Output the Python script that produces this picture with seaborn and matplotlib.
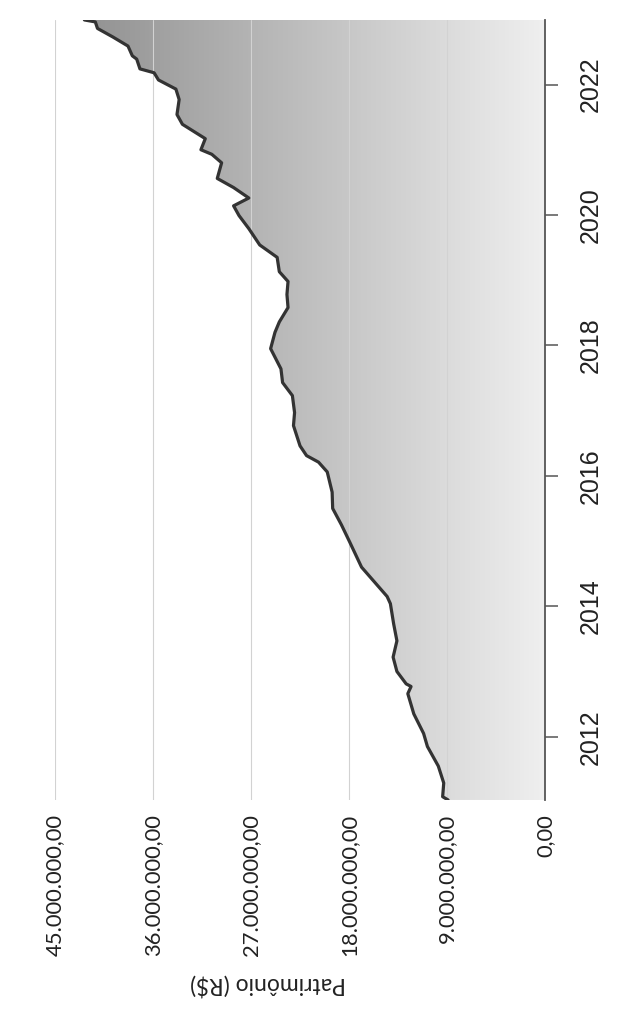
import numpy as np
import pandas as pd
import matplotlib.pyplot as plt
import seaborn as sns
from matplotlib.ticker import FuncFormatter
from matplotlib.colors import LinearSegmentedColormap
from matplotlib.path import Path
from matplotlib.patches import PathPatch

# Patrimônio ao longo do tempo (ano decimal, milhões de R$)
years = [2011.03, 2011.08, 2011.29, 2011.55, 2011.85, 2012.05, 2012.35, 2012.66,
         2012.77, 2012.81, 2013.00, 2013.22, 2013.47, 2013.73, 2014.04, 2014.15,
         2014.60, 2014.99, 2015.25, 2015.50, 2015.75, 2016.06, 2016.21, 2016.31,
         2016.46, 2016.77, 2016.97, 2017.23, 2017.43, 2017.64, 2017.95, 2018.20,
         2018.36, 2018.58, 2018.78, 2018.98, 2019.13, 2019.35, 2019.54, 2019.79,
         2019.99, 2020.14, 2020.26, 2020.42, 2020.56, 2020.80, 2020.93, 2021.00,
         2021.17, 2021.39, 2021.54, 2021.77, 2021.93, 2022.07, 2022.18, 2022.24,
         2022.39, 2022.44, 2022.59, 2022.73, 2022.86, 2022.96, 2022.99]
values_mi = [8.9, 9.4, 9.3, 9.8, 10.8, 11.15, 12.05, 12.6,
             12.3, 12.75, 13.6, 13.95, 13.6, 13.9, 14.2, 14.5,
             16.85, 17.95, 18.7, 19.5, 19.55, 20.0, 20.8, 21.9,
             22.5, 23.1, 23.0, 23.2, 24.1, 24.25, 25.2, 24.8,
             24.4, 23.6, 23.7, 23.6, 24.4, 24.6, 26.2, 27.2,
             28.1, 28.6, 27.2, 28.6, 30.1, 29.7, 30.6, 31.6,
             31.2, 33.3, 33.8, 33.6, 33.9, 35.5, 35.9, 37.2,
             37.5, 37.9, 38.3, 39.7, 41.1, 41.3, 42.3]
value_ticks = [0, 9e6, 18e6, 27e6, 36e6, 45e6]
year_ticks = [2012, 2014, 2016, 2018, 2020, 2022]

df = pd.DataFrame({"ano": years, "patrimonio": np.array(values_mi) * 1e6})


def brl(v, pos=None):
    s = f"{v:,.2f}"
    return s.replace(",", "X").replace(".", ",").replace("X", ".")


sns.set_style("white")
plt.rcParams["font.family"] = ["Lato", "DejaVu Sans"]

# chart is drawn rotated (as in the scanned page): values run right->left, years bottom->top
fig = plt.figure(figsize=(6.26, 10.13), dpi=100)
ax = fig.add_axes([0.0879, 0.2103, 0.7827, 0.7700])

# gradient area fill, clipped to the area under the curve
cmap = LinearSegmentedColormap.from_list("fill", ["#efefef", "#8c8c8c"])
grad = np.linspace(0, 1, 256).reshape(1, -1)
im = ax.imshow(grad, cmap=cmap, aspect="auto", origin="lower",
               extent=[0, 45e6, years[0], years[-1]], zorder=1)
verts = list(zip(df["patrimonio"], df["ano"])) + [(0, years[-1]), (0, years[0])]
patch = PathPatch(Path(verts), facecolor="none", edgecolor="none")
ax.add_patch(patch)
im.set_clip_path(patch)

sns.lineplot(data=df, x="patrimonio", y="ano", orient="y", estimator=None,
             color="#333333", lw=2.3, ax=ax, zorder=4)

ax.set_xlim(45e6, 0)
ax.set_ylim(years[0], years[-1])

ax.set_axisbelow(False)
ax.xaxis.grid(True, color="#d2d2d2", lw=0.8)
ax.yaxis.grid(False)

for side in ["top", "left", "bottom"]:
    ax.spines[side].set_visible(False)
ax.spines["right"].set_color("#555555")
ax.spines["right"].set_linewidth(1.3)
ax.spines["right"].set_zorder(5)

ax.set_xticks(value_ticks)
ax.xaxis.set_major_formatter(FuncFormatter(brl))
ax.tick_params(axis="x", length=0, pad=10, labelsize=15.8, labelrotation=90,
               labelcolor="#222222")

ax.yaxis.tick_right()
ax.set_yticks(year_ticks)
ax.set_yticklabels([str(y) for y in year_ticks], family="Liberation Sans",
                   fontsize=18, rotation=90, va="center", color="#222222")
ax.tick_params(axis="y", direction="out", length=9, width=1.1, color="#555555", pad=15)

ax.set_ylabel("")
ax.set_xlabel("Patrimônio (R$)", rotation=180, fontsize=16.5, va="center", color="#222222")
ax.xaxis.set_label_coords((268 - 55) / 490, -(985 - 800) / 780)

fig.savefig("out.png", dpi=100)
